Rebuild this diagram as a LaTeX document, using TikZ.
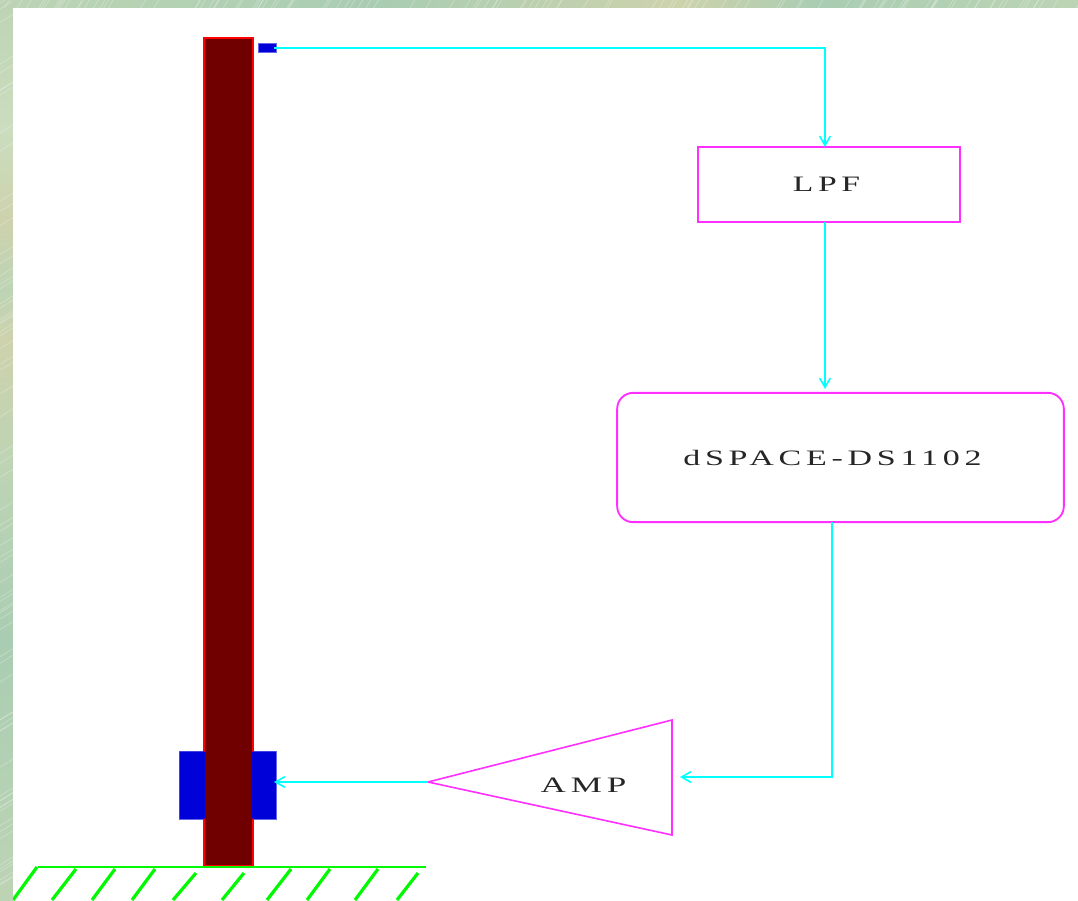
\documentclass[tikz,border=0pt]{standalone}
\usepackage{fontspec}
\usepackage{graphicx}
\usetikzlibrary{arrows.meta}
\setmainfont{Liberation Serif}
\newfontfamily\lab[LetterSpace=14]{Liberation Serif}
\definecolor{bgg}{HTML}{BDD4B4}
\definecolor{bgt}{HTML}{CDD2AC}
\definecolor{bgl}{HTML}{CBDDBE}
\definecolor{bgb}{HTML}{A9CDB2}
\definecolor{beamfill}{HTML}{700000}
\definecolor{beamline}{HTML}{FF0000}
\definecolor{blk}{HTML}{0000D8}
\definecolor{mag}{HTML}{FF30FF}
\definecolor{wire}{HTML}{00FFFF}
\definecolor{gnd}{HTML}{00F800}
\tikzset{
  x=0.75pt,y=-0.75pt,
  block/.style={draw=mag,line width=1.4pt,fill=white,inner sep=0pt,outer sep=0pt},
  lbl/.style={inner sep=0pt,text=black!85,font=\lab\fontsize{15}{15}\selectfont},
  wirel/.style={draw=wire,line width=1.6pt},
  wirea/.style={wirel,-{Straight Barb[length=7pt,width=8pt,line width=1.2pt]}},
  hatch/.style={draw=gnd,line width=2.4pt},
  bluebox/.style={fill=blk,draw=blk!60!white,line width=0.5pt,inner sep=0pt,outer sep=0pt},
}
\begin{document}
\begin{tikzpicture}
\useasboundingbox (0,0) rectangle (1078,900);
% background: soft textured band
\fill[bgg] (0,0) rectangle (1078,900);
\shade[top color=bgg,bottom color=bgl] (0,0) rectangle (13,130);
\shade[top color=bgl,bottom color=bgt] (0,130) rectangle (13,220);
\shade[top color=bgt,bottom color=bgg] (0,220) rectangle (13,290);
\shade[top color=bgg,bottom color=bgt] (0,290) rectangle (13,340);
\shade[top color=bgt,bottom color=bgg] (0,340) rectangle (13,470);
\shade[top color=bgg,bottom color=bgb] (0,470) rectangle (13,640);
\shade[top color=bgb,bottom color=bgg] (0,640) rectangle (13,900);
\shade[left color=bgg,right color=bgb] (0,0) rectangle (380,8);
\shade[left color=bgb,right color=bgt] (380,0) rectangle (680,8);
\shade[left color=bgt,right color=bgb] (680,0) rectangle (820,8);
\shade[left color=bgb,right color=bgg] (820,0) rectangle (1078,8);
\pgfmathsetseed{4711}
\foreach \i in {1,...,70}{
  \pgfmathsetmacro{\yy}{rnd*900}
  \draw[white,opacity=0.25,line width=0.6pt] (0,\yy) -- (13,\yy-8);
}
\foreach \i in {1,...,120}{
  \pgfmathsetmacro{\xx}{rnd*1078}
  \draw[white,opacity=0.25,line width=0.6pt] (\xx,8) -- (\xx+5,0);
}
\fill[white] (13,8) rectangle (1078,900);
% beam and actuator
\node[bluebox,minimum width=72.5pt,minimum height=51pt] (act) at (227.5,785) {};
\node[fill=beamfill,draw=beamline,line width=1.5pt,minimum width=36.5pt,minimum height=621pt,inner sep=0pt,outer sep=0pt] (beam) at (228.5,452) {};
\fill[blk] (179.5,751.5) rectangle (205,818.5) (251.5,751.5) rectangle (275.5,818.5);
\fill[beamfill] (205,751) rectangle (252,819);
\node[bluebox,minimum width=13.5pt,minimum height=7pt] (sensor) at (267,47.5) {};
% ground
\coordinate (g1) at (38,867); \coordinate (g2) at (426,867);
\draw[hatch,line width=2pt] (g1) -- (g2);
\begin{scope}
\clip (13,860) rectangle (1078,900);
\foreach \a/\ay/\b in {37/867/13,76/869/52,115/869/92,155/869/132,196/873/173,244/873/222,291/869/267,330/869/307,378/869/355,418/873/397}
  \draw[hatch] (\a,\ay) -- (\b,900);
\end{scope}
% blocks
\node[block,minimum width=197pt,minimum height=56pt] (lpf) at (829,184.5) {};
\node[lbl] at (826.5,184.5) {\scalebox{1.68}[1.1]{LPF}};
\node[block,rounded corners=12pt,minimum width=335pt,minimum height=97pt] (ds) at (840.5,457.5) {};
\node[lbl] at (832.5,457.5) {\scalebox{1.7}[1.1]{dSPACE-DS1102}};
\coordinate (t1) at (428,782); \coordinate (t2) at (672,720); \coordinate (t3) at (672,835);
\draw[mag,line width=1.2pt,fill=white] (t1) -- (t2) -- (t3) -- cycle;
\draw[mag,line width=1.6pt] (t2) -- (t3);
\node[lbl] (amp) at (583.5,785) {\scalebox{1.75}[1.1]{AMP}};
% connectors
\coordinate (c1) at (825,48); \coordinate (lpfin) at (825,147);
\coordinate (lpfout) at (825,222); \coordinate (dsin) at (825,389);
\coordinate (dsout) at (832,522); \coordinate (c2) at (832,777); \coordinate (ampin) at (680,777);
\coordinate (actin) at (274,782); \coordinate (sensout) at (274,48);
\draw[wirea] (sensout) -- (c1) -- (lpfin);
\draw[wirea] (lpfout) -- (dsin);
\draw[wirea] (dsout) -- (c2) -- (ampin);
\draw[wirea] (t1) -- (actin);
\end{tikzpicture}
\end{document}
